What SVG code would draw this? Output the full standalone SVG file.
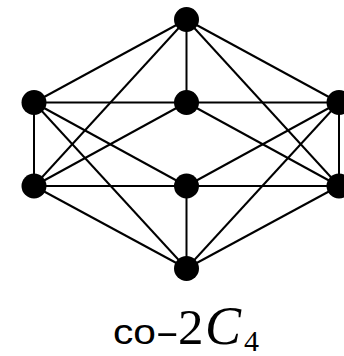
<svg xmlns="http://www.w3.org/2000/svg" width="344" height="356" viewBox="0 0 344 356">
  <style>
    .edge { stroke: #000; stroke-width: 2; fill: none; }
    .vertex { fill: #000; }
  </style>
  <rect width="344" height="356" fill="#fff"/>
  <g id="edges">
    <!-- top vertex -->
    <line class="edge" x1="186.5" y1="19.5" x2="34" y2="102.5"/>
    <line class="edge" x1="186.5" y1="19.5" x2="186.5" y2="102.5"/>
    <line class="edge" x1="186.5" y1="19.5" x2="339" y2="102.5"/>
    <line class="edge" x1="186.5" y1="19.5" x2="34" y2="186"/>
    <line class="edge" x1="186.5" y1="19.5" x2="339" y2="186"/>
    <!-- upper row -->
    <line class="edge" x1="34" y1="102.5" x2="339" y2="102.5"/>
    <line class="edge" x1="34" y1="102.5" x2="34" y2="186"/>
    <line class="edge" x1="339" y1="102.5" x2="339" y2="186"/>
    <line class="edge" x1="34" y1="102.5" x2="186.5" y2="186"/>
    <line class="edge" x1="339" y1="102.5" x2="186.5" y2="186"/>
    <line class="edge" x1="186.5" y1="102.5" x2="34" y2="186"/>
    <line class="edge" x1="186.5" y1="102.5" x2="339" y2="186"/>
    <line class="edge" x1="34" y1="102.5" x2="186.5" y2="268.5"/>
    <line class="edge" x1="339" y1="102.5" x2="186.5" y2="268.5"/>
    <!-- lower row -->
    <line class="edge" x1="34" y1="186" x2="339" y2="186"/>
    <line class="edge" x1="34" y1="186" x2="186.5" y2="268.5"/>
    <line class="edge" x1="186.5" y1="186" x2="186.5" y2="268.5"/>
    <line class="edge" x1="339" y1="186" x2="186.5" y2="268.5"/>
  </g>
  <g id="v-top"><circle class="vertex" cx="186.5" cy="19.5" r="12.5"/></g>
  <g id="v-left-upper"><circle class="vertex" cx="34" cy="102.5" r="12.5"/></g>
  <g id="v-center-upper"><circle class="vertex" cx="186.5" cy="102.5" r="12.5"/></g>
  <g id="v-right-upper"><circle class="vertex" cx="339" cy="102.5" r="12.5"/></g>
  <g id="v-left-lower"><circle class="vertex" cx="34" cy="186" r="12.5"/></g>
  <g id="v-center-lower"><circle class="vertex" cx="186.5" cy="186" r="12.5"/></g>
  <g id="v-right-lower"><circle class="vertex" cx="339" cy="186" r="12.5"/></g>
  <g id="v-bottom"><circle class="vertex" cx="186.5" cy="268.5" r="12.5"/></g>
  <g id="label">
    <text font-family="'Liberation Sans', Arial, sans-serif" font-size="35" fill="#000" x="113" y="343.5" textLength="43" lengthAdjust="spacingAndGlyphs">co</text>
    <!-- wide hyphen: ordinary hyphen stretched sideways -->
    <text font-family="'Liberation Sans', Arial, sans-serif" font-size="35" fill="#000" transform="translate(155,343.5) scale(2.1,1)">-</text>
    <text font-family="'Liberation Serif', 'Times New Roman', serif" font-size="51" fill="#000" y="344"><tspan x="178">2</tspan><tspan x="205" font-size="54" font-style="italic">C</tspan><tspan x="244" y="351" font-size="30">4</tspan></text>
  </g>
</svg>
